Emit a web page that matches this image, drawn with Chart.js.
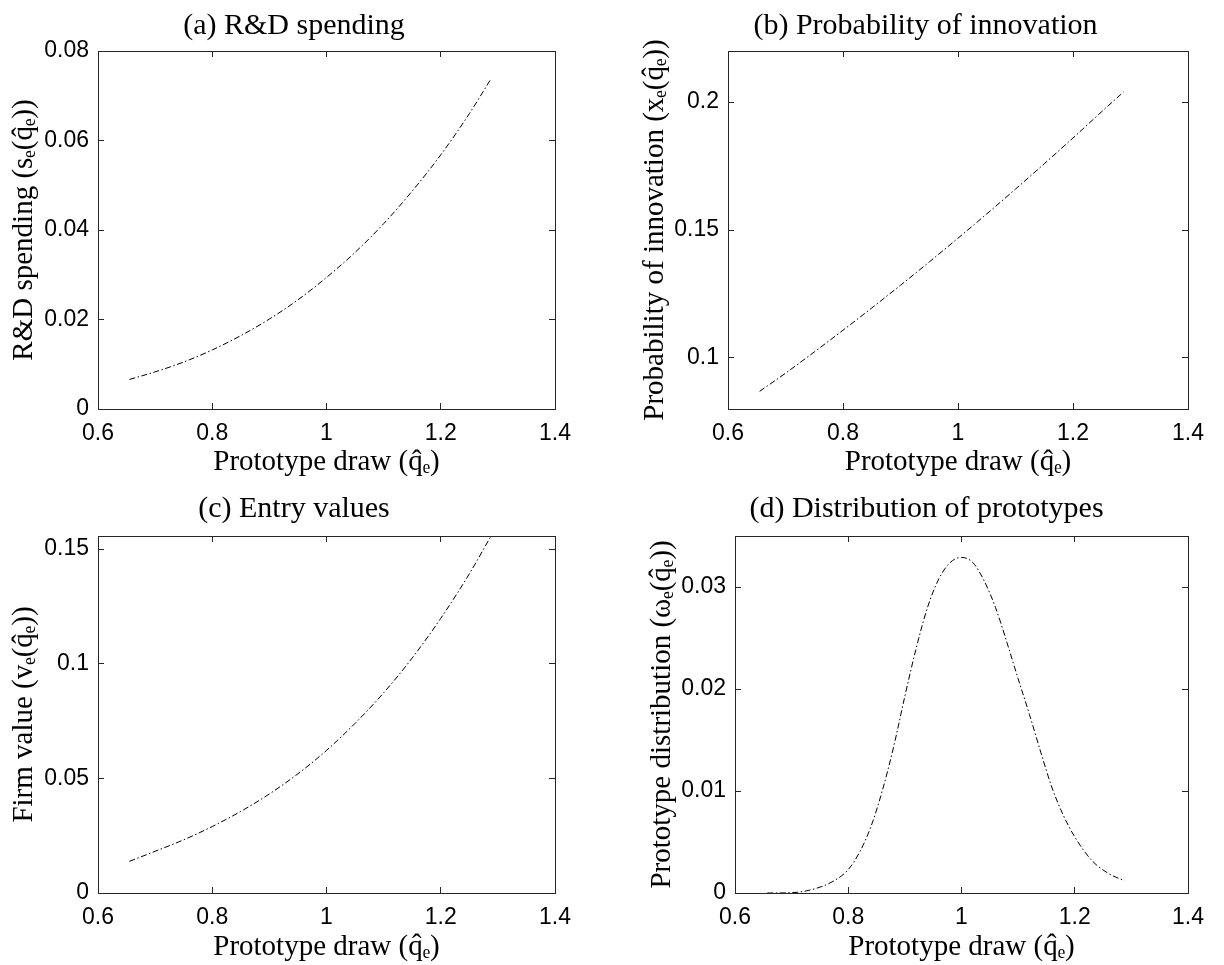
<!DOCTYPE html>
<html>
<head>
<meta charset="utf-8">
<script src="https://cdn.jsdelivr.net/npm/chart.js@4.4.1/dist/chart.umd.min.js"></script>
<style>
    body { margin: 0; background: #fff; }
    #fig { position: relative; width: 1224px; height: 965px; }
    canvas { position: absolute; }
</style>
</head>
<body>
<div id="fig">
    <canvas id="grafico1" width="588" height="480" style="left:0px;top:0px"></canvas>
    <canvas id="grafico2" width="591" height="480" style="left:630px;top:0px"></canvas>
    <canvas id="grafico3" width="588" height="485" style="left:0px;top:480px"></canvas>
    <canvas id="grafico4" width="589" height="485" style="left:632px;top:480px"></canvas>
</div>
<script>
    // prototype draws (x axis of panels a, b, c)
    const qDraw = [0.655, 0.70, 0.75, 0.80, 0.85, 0.90, 0.95, 1.00, 1.05, 1.10, 1.15, 1.20, 1.25, 1.288];

    const rdSpending = [0.0066, 0.0083, 0.0105, 0.0132, 0.0164, 0.0201, 0.0244, 0.0294, 0.0350, 0.0414, 0.0487, 0.0568, 0.0660, 0.0738];
    const innovProb = [0.0869, 0.0940, 0.1023, 0.1108, 0.1195, 0.1284, 0.1375, 0.1468, 0.1563, 0.1660, 0.1759, 0.1860, 0.1963, 0.2040];
    const entryValue = [0.0138, 0.0182, 0.0232, 0.0290, 0.0356, 0.0432, 0.0520, 0.0622, 0.0740, 0.0873, 0.1025, 0.1198, 0.1392, 0.1557];

    // panel d uses a finer grid of draws
    const qDrawDist = [0.657, 0.70, 0.74, 0.775, 0.80, 0.82, 0.84, 0.86, 0.88, 0.90, 0.92, 0.94, 0.96, 0.98, 1.00,
        1.02, 1.04, 1.06, 1.08, 1.10, 1.12, 1.14, 1.16, 1.18, 1.20, 1.23, 1.26, 1.288];
    const protoDist = [0.0000, 0.00003, 0.0004, 0.0012, 0.0023, 0.0040, 0.0065, 0.0100, 0.0143, 0.0193, 0.0240, 0.0280, 0.0308, 0.0324, 0.0329,
        0.0324, 0.0306, 0.0280, 0.0246, 0.0210, 0.0175, 0.0138, 0.0103, 0.0076, 0.0055, 0.0032, 0.0019, 0.0012];

    // tick labels
    const xTicks = [0.6, 0.8, 1, 1.2, 1.4];
    const yTicks1 = [0, 0.02, 0.04, 0.06, 0.08];
    const yTicks2 = [0.1, 0.15, 0.2];
    const yTicks3 = [0, 0.05, 0.1, 0.15];
    const yTicks4 = [0, 0.01, 0.02, 0.03];

    const xLabel = 'Prototype draw (q\u0302\u2091)';

    const serif = 'Liberation Serif';
    const axisColor = '#262626';

    Chart.defaults.font.family = 'Liberation Sans';
    Chart.defaults.color = '#000';

    function setTicks(values) {
        return function (scale) {
            scale.ticks = values.map(v => ({ value: v }));
        };
    }

    // box: yW = left axis width, y2W = right margin, titleH = space above plot,
    // xH = space under plot, plus paddings of titles
    function makeConfig(xs, ys, title, yLabel, yMin, yMax, yTicks, box) {
        const points = xs.map((x, i) => ({ x: x, y: ys[i] }));
        const grid = { drawOnChartArea: false, drawTicks: true, tickLength: -6, color: axisColor };
        const border = { display: true, color: axisColor, width: 1 };
        return {
            type: 'line',
            data: {
                datasets: [{
                    data: points,
                    borderColor: '#000',
                    borderWidth: 1,
                    borderDash: [6, 2.5, 1.5, 2.5],
                    pointRadius: 0,
                    fill: false,
                    cubicInterpolationMode: 'monotone',
                }]
            },
            options: {
                responsive: false,
                animation: false,
                layout: { padding: 0 },
                plugins: {
                    legend: { display: false },
                    tooltip: { enabled: false },
                    title: {
                        display: true,
                        text: title,
                        color: '#000',
                        font: { family: serif, size: 30, weight: 'normal' },
                        padding: { top: box.tTop, bottom: box.titleH - box.tTop - 36 },
                    },
                },
                scales: {
                    x: {
                        type: 'linear', position: 'bottom', min: 0.6, max: 1.4,
                        afterBuildTicks: setTicks(xTicks),
                        afterFit: s => { s.height = box.xH; },
                        grid: grid, border: border,
                        ticks: { font: { size: 23 }, color: '#000', padding: 17, autoSkip: false, maxRotation: 0, callback: v => String(v) },
                        title: { display: true, text: xLabel, color: '#000', font: { family: serif, size: 29 }, padding: { top: 0, bottom: box.xtPad } },
                    },
                    x2: {
                        type: 'linear', axis: 'x', position: 'top', min: 0.6, max: 1.4, display: true,
                        afterBuildTicks: setTicks(xTicks),
                        afterFit: s => { s.height = 0; },
                        grid: grid, border: border,
                        ticks: { display: false },
                    },
                    y: {
                        type: 'linear', position: 'left', min: yMin, max: yMax,
                        afterBuildTicks: setTicks(yTicks),
                        afterFit: s => { s.width = box.yW; },
                        grid: grid, border: border,
                        ticks: { font: { size: 23 }, color: '#000', padding: 15, autoSkip: false, callback: v => String(v) },
                        title: { display: true, text: yLabel, color: '#000', font: { family: serif, size: 29 }, padding: { top: box.ytPad, bottom: 0 } },
                    },
                    y2: {
                        type: 'linear', axis: 'y', position: 'right', min: yMin, max: yMax, display: true,
                        afterBuildTicks: setTicks(yTicks),
                        afterFit: s => { s.width = box.y2W; },
                        grid: grid, border: border,
                        ticks: { display: false },
                    },
                }
            }
        };
    }

    const config1 = makeConfig(qDraw, rdSpending, '(a) R&D spending', 'R&D spending (s\u2091(q\u0302\u2091))',
        0, 0.08, yTicks1, { yW: 98, y2W: 23, titleH: 51, tTop: 8, xH: 71, xtPad: 0, ytPad: 7 });

    const config2 = makeConfig(qDraw, innovProb, '(b) Probability of innovation', 'Probability of innovation (x\u2091(q\u0302\u2091))',
        0.08, 0.22, yTicks2, { yW: 98, y2W: 23, titleH: 51, tTop: 8, xH: 71, xtPad: 0, ytPad: 7.5 });

    const config3 = makeConfig(qDraw, entryValue, '(c) Entry values', 'Firm value (v\u2091(q\u0302\u2091))',
        0, 0.1557, yTicks3, { yW: 98, y2W: 23, titleH: 56, tTop: 11, xH: 72, xtPad: 0.6, ytPad: 7 });

    const config4 = makeConfig(qDrawDist, protoDist, '(d) Distribution of prototypes', 'Prototype distribution (\u03c9\u2091(q\u0302\u2091))',
        0, 0.035, yTicks4, { yW: 103, y2W: 30, titleH: 56, tTop: 11, xH: 72, xtPad: 0.6, ytPad: 12.5 });

    const grafico1 = new Chart(document.getElementById('grafico1'), config1);
    const grafico2 = new Chart(document.getElementById('grafico2'), config2);
    const grafico3 = new Chart(document.getElementById('grafico3'), config3);
    const grafico4 = new Chart(document.getElementById('grafico4'), config4);
</script>
</body>
</html>
